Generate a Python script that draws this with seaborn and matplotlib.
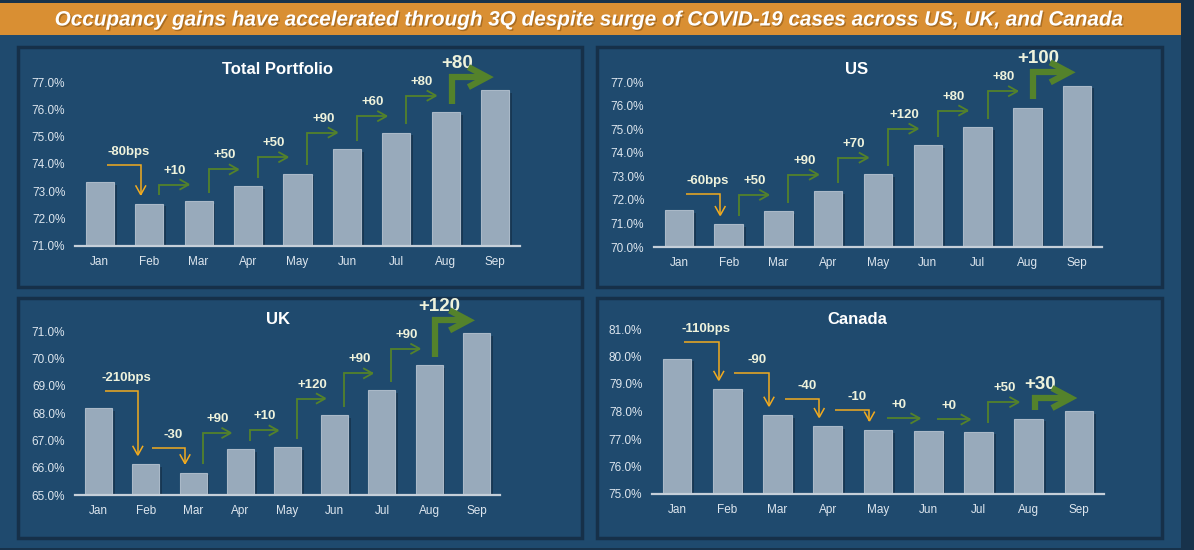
import matplotlib
matplotlib.use("Agg")
import matplotlib.pyplot as plt
import seaborn as sns
import numpy as np
from matplotlib.patches import Rectangle, FancyArrowPatch, ArrowStyle
from matplotlib.path import Path
import matplotlib.patheffects as pe

sns.set_theme(style="white")
plt.rcParams['font.family'] = ['Liberation Sans', 'DejaVu Sans']

# ---------------- data ----------------
months = ["Jan", "Feb", "Mar", "Apr", "May", "Jun", "Jul", "Aug", "Sep"]

total_vals = [73.35, 72.55, 72.65, 73.2, 73.65, 74.55, 75.15, 75.9, 76.7]
us_vals = [71.55, 70.96, 71.51, 72.37, 73.09, 74.32, 75.09, 75.91, 76.85]
uk_vals = [68.19, 66.13, 65.82, 66.67, 66.76, 67.93, 68.85, 69.75, 70.91]
ca_vals = [79.92, 78.81, 77.87, 77.46, 77.33, 77.29, 77.27, 77.74, 78.01]

total_changes = ["-80bps", "+10", "+50", "+50", "+90", "+60", "+80", "+80"]
us_changes = ["-60bps", "+50", "+90", "+70", "+120", "+80", "+80", "+100"]
uk_changes = ["-210bps", "-30", "+90", "+10", "+120", "+90", "+90", "+120"]
ca_changes = ["-110bps", "-90", "-40", "-10", "+0", "+0", "+50", "+30"]

total_ticks = [71, 72, 73, 74, 75, 76, 77]
us_ticks = [70, 71, 72, 73, 74, 75, 76, 77]
uk_ticks = [65, 66, 67, 68, 69, 70, 71]
ca_ticks = [75, 76, 77, 78, 79, 80, 81]

titles = ["Total Portfolio", "US", "UK", "Canada"]
headline = ("Occupancy gains have accelerated through 3Q despite surge of "
            "COVID-19 cases across US, UK, and Canada")

# ---------------- style ----------------
W, H = 1194, 550
OUTER = "#17324b"
MAIN = "#1f4a6e"
PANEL_EDGE = "#163049"
ORANGE_BAR = "#d98f33"
BAR = "#98aabb"
BAR_EDGE = "#aab9c8"
TICK_C = "#dde6ee"
LBL_C = "#eef2dc"
UP_C = "#54822b"
DOWN_C = "#f2ab1f"

fig = plt.figure(figsize=(W / 100, H / 100), dpi=100, facecolor=OUTER)


def fx(x):
    return x / W


def fy(y):
    return 1 - y / H


# main area
fig.patches.append(Rectangle((fx(0), fy(548)), fx(1181), (548 - 35) / H,
                             transform=fig.transFigure, facecolor=MAIN,
                             edgecolor="none", zorder=-3))
# orange title bar
fig.patches.append(Rectangle((fx(0), fy(35)), fx(1181), 32 / H,
                             transform=fig.transFigure, facecolor=ORANGE_BAR,
                             edgecolor="none", zorder=-2))
fig.text(fx(588), fy(20), headline, ha="center", va="center", color="white",
         fontsize=14.9, fontweight="bold", fontstyle="italic",
         path_effects=[pe.withSimplePatchShadow(offset=(1, -1), shadow_rgbFace="#7a4a10", alpha=0.5)])

# panel frames (left, top, right, bottom) in pixels
panels = [(18, 47, 582, 287), (597, 47, 1162, 287),
          (18, 298, 582, 538), (597, 298, 1162, 538)]
for (l, t, r, b) in panels:
    fig.patches.append(Rectangle((fx(l), fy(b)), fx(r - l), (b - t) / H,
                                 transform=fig.transFigure, facecolor=MAIN,
                                 edgecolor=PANEL_EDGE, linewidth=2.5, zorder=-1))

# axes boxes (left, top, right, bottom) pixels
axes_px = [(75, 82, 520, 246), (654, 82, 1102, 247),
           (75, 331, 500, 495), (652, 329, 1104, 494)]
title_pos = [(277, 69), (857, 69), (278, 319), (857, 319)]
all_vals = [total_vals, us_vals, uk_vals, ca_vals]
all_changes = [total_changes, us_changes, uk_changes, ca_changes]
all_ticks = [total_ticks, us_ticks, uk_ticks, ca_ticks]


def draw_arrow(ax, verts, color, lw, scale, hl, hw):
    codes = [Path.MOVETO] + [Path.LINETO] * (len(verts) - 1)
    arr = FancyArrowPatch(path=Path(verts, codes),
                          arrowstyle=ArrowStyle("->", head_length=hl, head_width=hw),
                          mutation_scale=scale, color=color, linewidth=lw,
                          clip_on=False, zorder=5, capstyle="butt", joinstyle="miter")
    ax.add_patch(arr)


def annotate_changes(ax, vals, changes, R):
    n = len(changes)
    for i, lab in enumerate(changes):
        prev, nxt = vals[i], vals[i + 1]
        big = (i == n - 1)
        if lab.startswith("-"):
            level = prev + 0.1 * R
            tip = nxt + 0.045 * R
            x0, x1 = i + 0.14, i + 1 - 0.17
            draw_arrow(ax, [(x0, level), (x1, level), (x1, tip)], DOWN_C, 1.1, 15, 0.45, 0.25)
            ax.annotate(lab, ((x0 + x1) / 2 + 0.1, level), xytext=(0, 13),
                        textcoords="offset pixels", ha="center", va="center",
                        color=LBL_C, fontsize=9.5, fontweight="bold", annotation_clip=False)
        elif lab == "+0":
            y = prev + 0.07 * R
            x0, x1 = i + 0.17, i + 1 - 0.13
            draw_arrow(ax, [(x0, y), (x1, y)], UP_C, 1.3, 15, 0.45, 0.25)
            ax.annotate(lab, ((x0 + x1) / 2 - 0.1, y), xytext=(0, 13),
                        textcoords="offset pixels", ha="center", va="center",
                        color=LBL_C, fontsize=9.5, fontweight="bold", annotation_clip=False)
        else:
            start = prev + 0.05 * R
            if big:
                level = max(nxt + 0.08 * R, start + 0.05 * R)
                x0, x1 = i + 0.12, i + 1 - 0.03
                draw_arrow(ax, [(x0, start), (x0, level), (x1, level)], UP_C, 4.5, 30, 0.45, 0.24)
                ax.annotate(lab, (x0 + 0.1, level), xytext=(0, 14),
                            textcoords="offset pixels", ha="center", va="center",
                            color=LBL_C, fontsize=13.5, fontweight="bold", annotation_clip=False)
            else:
                level = max(nxt + 0.1 * R, start + 0.05 * R)
                x0, x1 = i + 0.2, i + 1 - 0.16
                draw_arrow(ax, [(x0, start), (x0, level), (x1, level)], UP_C, 1.3, 15, 0.45, 0.25)
                ax.annotate(lab, ((x0 + x1) / 2, level), xytext=(0, 14),
                            textcoords="offset pixels", ha="center", va="center",
                            color=LBL_C, fontsize=9.5, fontweight="bold", annotation_clip=False)


for k in range(4):
    l, t, r, b = axes_px[k]
    ax = fig.add_axes([fx(l), fy(b), fx(r - l), (b - t) / H])
    ax.set_facecolor("none")
    vals = all_vals[k]
    ticks = all_ticks[k]
    sns.barplot(x=months, y=vals, ax=ax, color=BAR, saturation=1, width=0.57,
                edgecolor=BAR_EDGE, linewidth=0.8, zorder=3)
    for p in ax.patches:
        p.set_path_effects([pe.SimplePatchShadow(offset=(2, -2), shadow_rgbFace="#10263a", alpha=0.5),
                            pe.Normal()])
    ax.set_ylim(ticks[0], ticks[-1])
    ax.set_xlim(-0.5, len(months) - 0.5)
    ax.set_yticks(ticks)
    ax.set_yticklabels([f"{v:.1f}%" for v in ticks])
    for s in ["top", "right", "left"]:
        ax.spines[s].set_visible(False)
    ax.spines["bottom"].set_color("#c5cfd9")
    ax.spines["bottom"].set_linewidth(1.6)
    ax.spines["bottom"].set_zorder(4)
    ax.tick_params(axis="both", length=0, colors=TICK_C, labelsize=8.5)
    ax.tick_params(axis="x", pad=7)
    ax.tick_params(axis="y", pad=7)
    ax.set_xlabel("")
    ax.set_ylabel("")
    ax.grid(False)
    R = ticks[-1] - ticks[0]
    annotate_changes(ax, vals, all_changes[k], R)
    tx, ty = title_pos[k]
    fig.text(fx(tx), fy(ty), titles[k], ha="center", va="center", color="white",
             fontsize=12, fontweight="bold")

fig.savefig("out.png", dpi=100, facecolor=OUTER)
